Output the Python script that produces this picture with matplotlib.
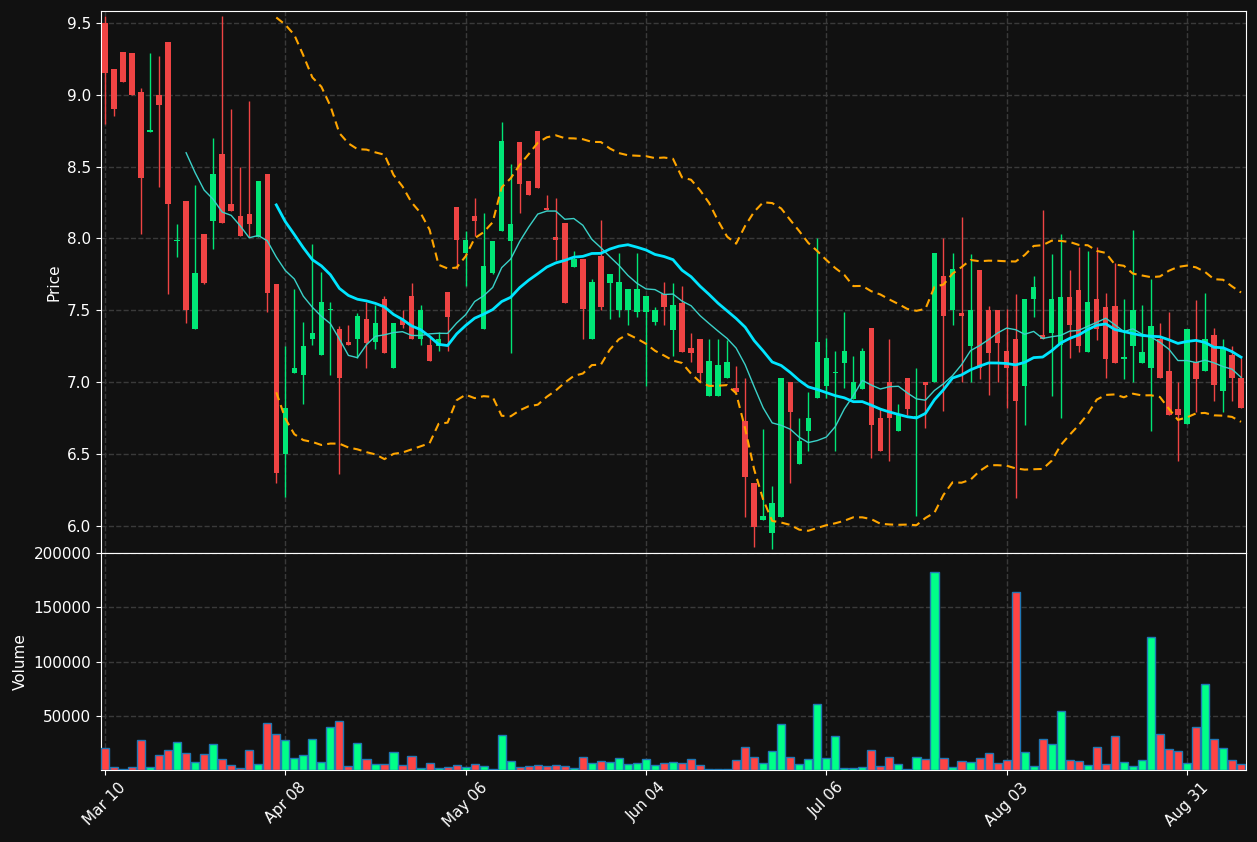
import numpy as np
import pandas as pd
import matplotlib
matplotlib.use("Agg")
import matplotlib.pyplot as plt

opens = [9.50,9.18,9.30,9.29,9.02,8.74,9.00,9.37,7.98,8.26,7.37,8.03,8.12,8.59,8.24,8.16,8.17,8.01,8.45,7.68,
         6.50,7.06,7.05,7.30,7.19,7.50,7.37,7.28,7.30,7.44,7.28,7.58,7.10,7.43,7.60,7.30,7.26,7.25,7.63,8.22,
         7.90,8.16,7.37,7.76,8.05,7.98,8.67,8.40,8.75,8.21,8.01,8.11,7.80,7.86,7.30,7.88,7.69,7.50,7.50,7.49,
         7.49,7.42,7.61,7.36,7.55,7.24,7.30,6.90,6.90,7.03,6.96,6.73,6.30,6.04,5.95,6.06,7.00,6.43,6.66,6.89,
         6.97,7.06,7.13,6.88,6.95,7.38,6.75,7.00,6.66,7.03,6.75,7.00,7.00,7.74,7.50,7.48,7.25,7.78,7.50,7.50,
         7.22,7.30,6.97,7.58,7.33,7.34,7.26,7.59,7.64,7.21,7.58,7.52,7.53,7.16,7.25,7.13,7.10,7.30,7.08,6.81,
         6.71,7.14,7.08,7.33,6.94,7.19,7.03]
closes = [9.15,8.90,9.09,9.00,8.42,8.75,8.93,8.24,7.99,7.50,7.76,7.69,8.45,8.11,8.19,8.02,8.10,8.40,7.62,6.37,
          6.82,7.10,7.25,7.34,7.56,7.51,7.03,7.26,7.46,7.27,7.41,7.20,7.41,7.40,7.30,7.50,7.15,7.30,7.45,7.99,
          7.99,8.12,7.81,7.98,8.68,8.10,8.38,8.30,8.35,8.20,7.99,7.55,7.86,7.51,7.70,7.52,7.75,7.70,7.65,7.65,
          7.60,7.50,7.52,7.54,7.21,7.20,7.06,7.15,7.12,7.14,6.93,6.34,5.99,6.07,6.16,7.03,6.79,6.59,6.75,7.28,
          7.17,7.07,7.22,7.00,7.22,6.70,6.52,6.75,6.78,6.81,6.76,6.98,7.90,7.46,7.79,7.46,7.50,7.10,7.20,7.27,
          7.10,6.87,7.58,7.66,7.30,7.58,7.59,7.40,7.25,7.56,7.37,7.16,7.13,7.17,7.50,7.21,7.39,7.03,6.77,6.77,
          7.37,7.02,7.30,6.98,7.24,7.03,6.82]
highs = [9.55,9.18,9.30,9.29,9.05,9.29,9.27,9.37,8.10,8.26,8.37,8.03,8.70,9.55,8.90,8.50,8.96,8.40,8.45,7.68,
         7.25,7.65,7.42,7.96,7.77,7.56,7.39,7.40,7.48,7.56,7.54,7.60,7.41,7.50,7.69,7.54,7.32,7.35,7.63,8.22,
         8.05,8.28,8.18,7.98,8.81,8.52,8.67,8.40,8.75,8.30,8.28,8.11,7.91,7.86,7.72,8.13,7.75,7.90,7.65,7.90,
         7.60,7.52,7.70,7.69,7.67,7.34,7.30,7.30,7.30,7.29,7.11,7.03,6.30,6.67,6.28,7.03,7.00,6.75,6.93,8.00,
         7.31,7.22,7.49,7.18,7.24,7.38,6.82,7.30,6.85,7.03,7.10,7.00,7.90,8.00,7.90,8.15,7.89,7.78,7.53,7.50,
         7.51,7.61,7.58,7.74,8.20,7.89,8.03,7.78,7.94,7.91,7.94,7.62,7.83,7.58,8.06,7.54,7.72,7.41,7.49,7.00,
         7.37,7.57,7.62,7.38,7.30,7.25,7.17]
lows = [8.80,8.85,9.09,9.00,8.03,8.74,8.36,7.61,7.87,7.41,7.37,7.68,7.93,8.11,8.19,8.02,8.01,8.01,7.49,6.30,
        6.20,7.06,6.85,7.26,7.19,7.05,6.36,7.26,7.17,7.10,7.23,7.20,7.10,7.38,7.30,7.26,7.15,7.22,7.22,7.79,
        7.67,8.02,7.37,7.75,8.05,7.20,8.18,8.30,8.35,8.20,7.85,7.55,7.80,7.30,7.30,7.50,7.44,7.45,7.40,7.45,
        6.97,7.40,7.40,7.18,7.21,7.14,7.00,6.90,6.90,7.03,6.93,6.06,5.85,6.04,5.84,6.06,6.30,6.43,6.52,6.89,
        6.89,6.52,6.96,6.88,6.95,6.47,6.52,6.45,6.66,6.77,6.07,6.68,7.00,6.80,7.40,7.00,7.00,7.02,6.91,7.00,
        6.82,6.19,6.70,7.45,7.30,6.90,6.75,7.17,7.21,7.21,7.29,7.03,7.13,7.02,7.00,7.13,6.66,7.03,6.77,6.45,
        6.71,6.79,7.08,6.87,6.79,6.87,6.82]
volumes = [20000,2500,600,2500,27500,2500,13600,18200,25600,15400,7700,14500,23800,9900,4300,1500,18200,5200,43200,33000,
           27500,10800,13600,28400,7100,39500,45100,3400,24700,9900,5200,5200,16400,4300,12700,1500,6200,1500,2500,4300,
           2500,5200,3400,600,32100,8000,2500,3400,4300,3400,4300,3400,1500,11700,6200,8000,7100,10800,5200,6200,
           9900,4300,6200,7100,6200,9900,4300,600,600,600,9000,21000,11700,6200,17300,42300,11700,5200,9900,60800,
           10800,31200,1500,1500,2500,18200,3400,11700,5200,600,11700,9900,182100,10800,2500,8000,7100,10800,15400,6200,
           9000,164500,16400,3400,28400,23800,54300,9000,8000,4300,21000,5200,31200,7100,3400,9000,122800,33000,19100,17300,
           6200,39500,79300,28400,20000,9000,5200]
tick_pos = [0, 20, 40, 60, 80, 100, 120]
tick_labels = ["Mar 10", "Apr 08", "May 06", "Jun 04", "Jul 06", "Aug 03", "Aug 31"]

BG = "#111111"
UP, DOWN = "#00e676", "#ef4444"
VUP, VDOWN = "#00ff88", "#ff4444"

o = np.array(opens); c = np.array(closes); h = np.array(highs); l = np.array(lows)
v = np.array(volumes); x = np.arange(len(o))
cs = pd.Series(c)
ma10 = cs.rolling(10).mean()
ma20 = cs.rolling(20).mean()
sd20 = cs.rolling(20).std(ddof=0)
up_band = ma20 + 2 * sd20
lo_band = ma20 - 2 * sd20

fig = plt.figure(figsize=(12.57, 8.42), dpi=100, facecolor=BG)
ax = fig.add_axes([101/1257, 1-553/842, (1246-101)/1257, (553-11)/842], facecolor=BG)
axv = fig.add_axes([101/1257, 1-770/842, (1246-101)/1257, (770-553)/842], facecolor=BG, sharex=ax)

up = c >= o
col = np.where(up, UP, DOWN)
ax.vlines(x, l, h, colors=col, linewidth=1, zorder=2)
ax.bar(x, np.maximum(np.abs(c - o), 0.012), bottom=np.minimum(o, c), width=0.6, color=col, zorder=3)
ax.plot(x, ma10, color="#3ad1c8", lw=1, zorder=4)
ax.plot(x, ma20, color="#00e5ff", lw=2, zorder=4)
ax.plot(x, up_band, color="#ffa500", lw=1.5, ls=(0, (4, 2.5)), zorder=4)
ax.plot(x, lo_band, color="#ffa500", lw=1.5, ls=(0, (4, 2.5)), zorder=4)
ax.set_ylim(5.81, 9.584)
ax.set_xlim(-0.44, 126.55)
ax.set_yticks([6.0, 6.5, 7.0, 7.5, 8.0, 8.5, 9.0, 9.5])
ax.set_ylabel("Price", color="white", fontsize=11)
plt.setp(ax.get_xticklabels(), visible=False)

axv.bar(x, v, width=0.9, color=np.where(up, VUP, VDOWN), edgecolor="#1f77b4", linewidth=1, zorder=3)
axv.set_ylim(0, 200000)
axv.set_yticks([50000, 100000, 150000, 200000])
axv.set_ylabel("Volume", color="white", fontsize=11)
axv.set_xticks(tick_pos)
axv.set_xticklabels(tick_labels, rotation=45, ha="center")

for a in (ax, axv):
    a.grid(True, color="#3a3a3a", ls="--", lw=1)
    a.set_axisbelow(True)
    a.tick_params(colors="white", labelsize=11)
    for s in a.spines.values():
        s.set_color("white")

fig.savefig("out.png", dpi=100, facecolor=BG)
